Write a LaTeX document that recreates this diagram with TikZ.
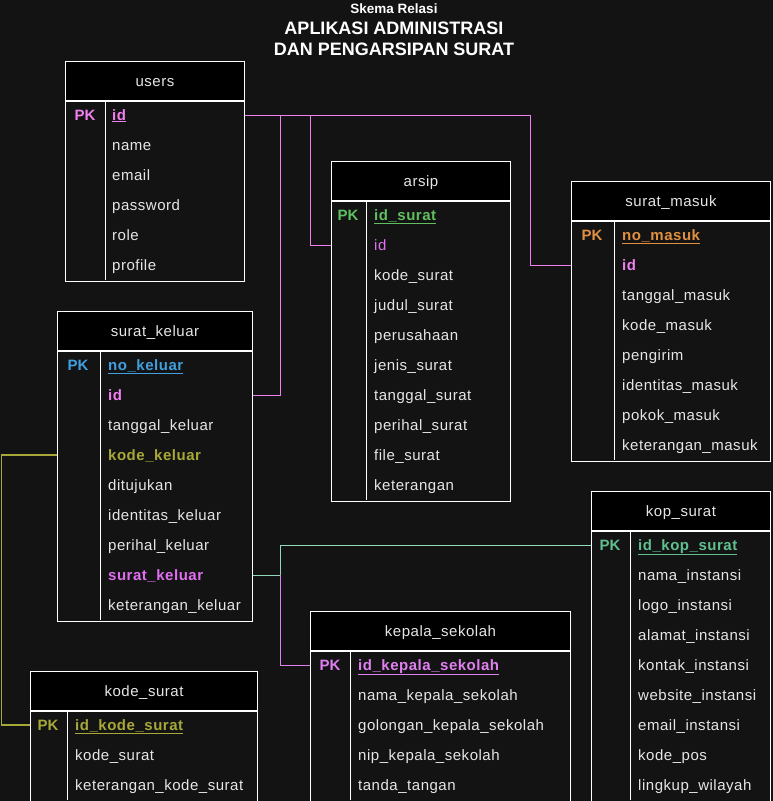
\documentclass[tikz,border=0pt]{standalone}
\usepackage{fontspec}
\setmainfont{Liberation Sans}
\usetikzlibrary{positioning}

\definecolor{bgcol}{HTML}{131313}
\definecolor{txtcol}{HTML}{E6E6E6}
\definecolor{userpink}{HTML}{F080F0}
\definecolor{arsipgreen}{HTML}{60C060}
\definecolor{masukorange}{HTML}{E09040}
\definecolor{keluarblue}{HTML}{40A0E0}
\definecolor{kodeolive}{HTML}{A8A838}
\definecolor{keluarpink}{HTML}{E070F0}
\definecolor{kopteal}{HTML}{60C090}
\definecolor{kepalapink}{HTML}{E080F0}
\definecolor{linkteal}{HTML}{90D8B8}

\newcommand{\fldfont}{\fontsize{15}{18}\selectfont\addfontfeature{LetterSpace=3.5}}

\tikzset{
  hdr/.style={draw=white, line width=1pt, fill=black, text=txtcol, inner sep=0pt,
    minimum height=39pt, font=\fldfont, text height=12pt, text depth=2pt},
  tbody/.style={draw=white, line width=1pt, fill=bgcol, inner sep=0pt},
  tline/.style={white, line width=1pt},
  fld/.style={anchor=west, inner sep=0pt, text=txtcol,
    font=\fldfont, text height=12pt, text depth=2pt},
  keyfld/.style={fld, text=#1, font=\fldfont\bfseries},
  pklbl/.style={inner sep=0pt, text=#1, font=\fontsize{15}{18}\selectfont\bfseries,
    text height=12pt, text depth=2pt},
  link/.style={line width=1pt, #1},
  ttl/.style={inner sep=0pt, text=white, font=\fontsize{#1}{#1}\selectfont\bfseries}
}

% table frame: name, x, top, width, divider x, rows, title
\newcommand{\ertable}[7]{%
  \node[hdr, minimum width=#4, anchor=north west] (#1) at (#2,#3) {#7};
  \node[tbody, minimum width=#4, minimum height=30*#6, anchor=north west] (#1-body) at (#1.south west) {};
  \draw[tline] (#5,#3+39) -- (#5,#3+39+30*#6);
}

\begin{document}
\begin{tikzpicture}[x=1pt,y=-1pt]
\fill[bgcol] (0,0) rectangle (773,801);
\useasboundingbox (0,0) rectangle (773,801);

% title
\node[ttl=13.5] (ttl1) at (394,9) {Skema Relasi};
\node[ttl=18] (ttl2) at (394,28) {APLIKASI ADMINISTRASI};
\node[ttl=18] (ttl3) at (394,49) {DAN PENGARSIPAN SURAT};

% users
\ertable{users}{65}{61}{179}{105}{6}{users}
\node[pklbl=userpink] (users-pk) at (85,115) {PK};
\node[keyfld=userpink] (users-f1) at (112,115) {\underline{id}};
\foreach \f [count=\i from 2] in {name,email,password,role,profile}
  \node[fld] (users-f\i) at (112,85+30*\i) {\f};

% arsip
\ertable{arsip}{331}{161}{179}{366}{10}{arsip}
\node[pklbl=arsipgreen] (arsip-pk) at (348,215) {PK};
\node[keyfld=arsipgreen] (arsip-f1) at (374,215) {\underline{id\_surat}};
\node[fld, text=keluarpink] (arsip-f2) at (374,245) {id};
\foreach \f [count=\i from 3] in {kode\_surat,judul\_surat,perusahaan,jenis\_surat,tanggal\_surat,perihal\_surat,file\_surat,keterangan}
  \node[fld] (arsip-f\i) at (374,185+30*\i) {\f};

% surat_masuk
\ertable{masuk}{571}{181}{199}{614}{8}{surat\_masuk}
\node[pklbl=masukorange] (masuk-pk) at (592,235) {PK};
\node[keyfld=masukorange] (masuk-f1) at (622,235) {\underline{no\_masuk}};
\node[keyfld=userpink] (masuk-f2) at (622,265) {id};
\foreach \f [count=\i from 3] in {tanggal\_masuk,kode\_masuk,pengirim,identitas\_masuk,pokok\_masuk,keterangan\_masuk}
  \node[fld] (masuk-f\i) at (622,205+30*\i) {\f};

% surat_keluar
\ertable{keluar}{57}{311}{195}{100}{9}{surat\_keluar}
\node[pklbl=keluarblue] (keluar-pk) at (78,365) {PK};
\node[keyfld=keluarblue] (keluar-f1) at (108,365) {\underline{no\_keluar}};
\node[keyfld=userpink] (keluar-f2) at (108,395) {id};
\node[fld] (keluar-f3) at (108,425) {tanggal\_keluar};
\node[keyfld=kodeolive] (keluar-f4) at (108,455) {kode\_keluar};
\foreach \f [count=\i from 5] in {ditujukan,identitas\_keluar,perihal\_keluar}
  \node[fld] (keluar-f\i) at (108,335+30*\i) {\f};
\node[keyfld=keluarpink] (keluar-f8) at (108,575) {surat\_keluar};
\node[fld] (keluar-f9) at (108,605) {keterangan\_keluar};

% kop_surat
\ertable{kop}{591}{491}{179}{630}{9}{kop\_surat}
\node[pklbl=kopteal] (kop-pk) at (610,545) {PK};
\node[keyfld=kopteal] (kop-f1) at (638,545) {\underline{id\_kop\_surat}};
\foreach \f [count=\i from 2] in {nama\_instansi,logo\_instansi,alamat\_instansi,kontak\_instansi,website\_instansi,email\_instansi,kode\_pos,lingkup\_wilayah}
  \node[fld] (kop-f\i) at (638,515+30*\i) {\f};

% kepala_sekolah
\ertable{kepala}{310}{611}{260}{350}{5}{kepala\_sekolah}
\node[pklbl=kepalapink] (kepala-pk) at (330,665) {PK};
\node[keyfld=kepalapink] (kepala-f1) at (358,665) {\underline{id\_kepala\_sekolah}};
\foreach \f [count=\i from 2] in {nama\_kepala\_sekolah,golongan\_kepala\_sekolah,nip\_kepala\_sekolah,tanda\_tangan}
  \node[fld] (kepala-f\i) at (358,635+30*\i) {\f};

% kode_surat
\ertable{kode}{30}{671}{227}{67}{3}{kode\_surat}
\node[pklbl=kodeolive] (kode-pk) at (48,725) {PK};
\node[keyfld=kodeolive] (kode-f1) at (75,725) {\underline{id\_kode\_surat}};
\foreach \f [count=\i from 2] in {kode\_surat,keterangan\_kode\_surat}
  \node[fld] (kode-f\i) at (75,695+30*\i) {\f};

% relations
\coordinate (bk) at (280,115);
\coordinate (ba) at (310,115);
\coordinate (bm) at (530,115);
\draw[link=userpink] (users-body.east |- users-f1) -- (bm) |- (masuk-body.west |- masuk-f2);
\draw[link=userpink] (bk) |- (keluar-body.east |- keluar-f2);
\draw[link=userpink] (ba) |- (arsip-body.west |- arsip-f2);
\coordinate (bo) at (1.5,455);
\draw[link=kodeolive, line width=1.3pt] (keluar-body.west |- keluar-f4) -- (bo) |- (kode-body.west |- kode-f1);
\coordinate (bs) at (280,575);
\draw[link=linkteal] (keluar-body.east |- keluar-f8) -- (bs) |- (kop-body.west |- kop-f1);
\draw[link=kepalapink] (bs) |- (kepala-body.west |- kepala-f1);
\end{tikzpicture}
\end{document}
